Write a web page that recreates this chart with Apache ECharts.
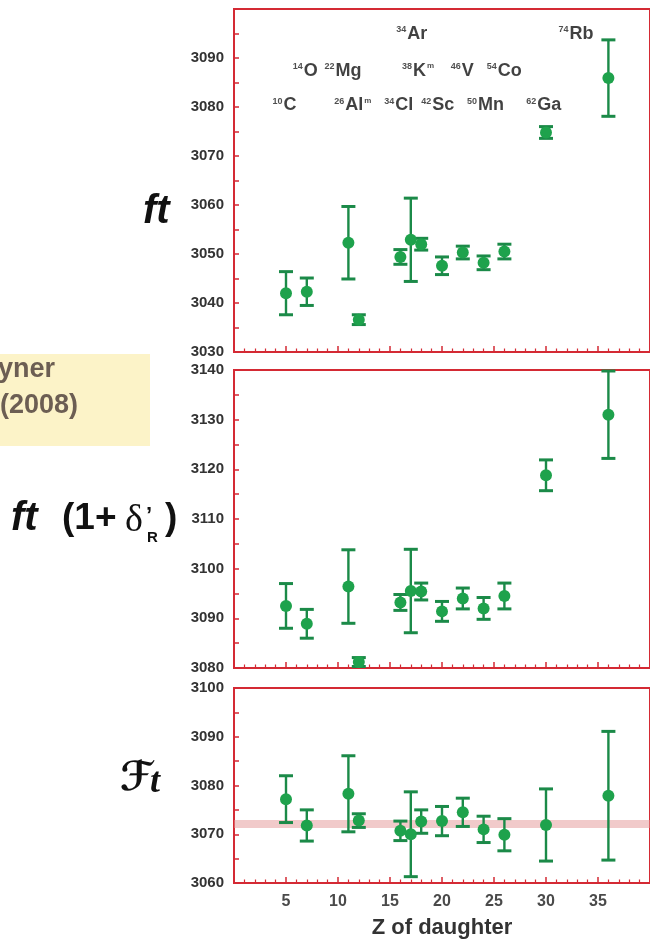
<!DOCTYPE html>
<html>
<head>
<meta charset="utf-8">
<script src="https://cdn.jsdelivr.net/npm/echarts@6/dist/echarts.min.js"></script>
<style>
  html, body { margin: 0; padding: 0; background: #ffffff; }
  #chart { width: 650px; height: 941px; }
</style>
</head>
<body>
<div id="chart"></div>
<script>
// Superallowed 0+ -> 0+ beta decays: Z of the daughter nucleus
const zDaughter = [5, 7, 11, 12, 16, 17, 18, 20, 22, 24, 26, 30, 36];

// Uncorrected ft values and uncertainties (s)
const ftValues = [3042.0, 3042.3, 3052.3, 3036.6, 3049.4, 3052.9, 3052.0, 3047.6, 3050.3, 3048.2, 3050.5, 3074.8, 3085.9];
const ftErrors = [4.4, 2.8, 7.4, 1.0, 1.5, 8.5, 1.2, 1.8, 1.3, 1.4, 1.5, 1.2, 7.8];

// ft (1 + delta'_R)
const ftRadValues = [3092.5, 3088.9, 3096.4, 3081.2, 3093.2, 3095.5, 3095.4, 3091.4, 3094.0, 3092.0, 3094.5, 3118.8, 3131.0];
const ftRadErrors = [4.5, 2.9, 7.4, 0.9, 1.6, 8.4, 1.7, 2.0, 2.1, 2.2, 2.6, 3.1, 8.8];

// Corrected Ft values
const FtValues = [3077.2, 3071.8, 3078.3, 3072.8, 3070.7, 3070.0, 3072.6, 3072.7, 3074.5, 3071.0, 3069.9, 3071.9, 3077.9];
const FtErrors = [4.8, 3.2, 7.8, 1.4, 2.0, 8.7, 2.4, 3.0, 2.9, 2.7, 3.3, 7.4, 13.2];

// Weighted average of Ft
const FtAverage = 3072.1;
const FtAverageError = 0.8;

// Parent nuclide labels and where they sit in the ft panel (Z, ft)
const isoMass   = ['10', '14', '22', '26', '34', '34', '38', '42', '46', '50', '54', '62', '74'];
const isoSymbol = ['C', 'O', 'Mg', 'Al', 'Cl', 'Ar', 'K', 'Sc', 'V', 'Mn', 'Co', 'Ga', 'Rb'];
const isoSuffix = ['', '', '', 'm', '', '', 'm', '', '', '', '', '', ''];
const isoLabelZ  = [3.7, 5.65, 8.7, 9.65, 14.45, 15.6, 16.15, 18.0, 20.85, 22.4, 24.3, 28.1, 31.2];
const isoLabelFt = [3080.3, 3087.3, 3087.3, 3080.3, 3080.3, 3094.9, 3087.3, 3080.3, 3087.3, 3080.3, 3087.3, 3080.3, 3094.9];

// Axis ranges per panel
const yRanges = [[3030, 3100], [3080, 3140], [3060, 3100]];
const zRange = [0, 40];

const RED = '#d42a34';
const MARK = '#1ea24c';
const BAR = '#1b8a48';
const FONT = '"Liberation Sans", Arial, sans-serif';

const chart = echarts.init(document.getElementById('chart'), null, { renderer: 'canvas' });

const grids = [
  { left: 234, right: -2, top: 9, height: 343 },
  { left: 234, right: -2, top: 370, height: 298 },
  { left: 234, right: -2, top: 688, height: 195 }
].map(g => Object.assign({
  show: true, borderColor: RED, borderWidth: 2, backgroundColor: 'transparent'
}, g));

function xAxisFor(i, withLabels) {
  return {
    type: 'value', gridIndex: i, min: zRange[0], max: zRange[1], interval: 5,
    axisLine: { show: true, onZero: false, lineStyle: { color: RED, width: 2 } },
    axisTick: { show: true, inside: true, length: 6, lineStyle: { color: RED, width: 1.5 } },
    minorTick: { show: true, splitNumber: 5, length: 3.5, lineStyle: { color: RED, width: 1.2 } },
    splitLine: { show: false },
    axisLabel: {
      show: withLabels, showMinLabel: false, showMaxLabel: false, margin: 11,
      fontFamily: FONT, fontSize: 16, fontWeight: 'bold', color: '#4a4a4a',
      formatter: v => String(v)
    },
    name: withLabels ? 'Z of daughter' : '',
    nameLocation: 'middle', nameGap: 34,
    nameTextStyle: { fontFamily: FONT, fontSize: 22, fontWeight: 'bold', color: '#333333' }
  };
}

function yAxisFor(i) {
  return {
    type: 'value', gridIndex: i, min: yRanges[i][0], max: yRanges[i][1], interval: 10,
    axisLine: { show: true, onZero: false, lineStyle: { color: RED, width: 2 } },
    axisTick: { show: true, inside: true, length: 5, lineStyle: { color: RED, width: 1.5 } },
    minorTick: { show: true, splitNumber: 2, length: 5, lineStyle: { color: RED, width: 1.5 } },
    splitLine: { show: false },
    axisLabel: {
      margin: 10, showMaxLabel: i !== 0,
      fontFamily: FONT, fontSize: 15, fontWeight: 'bold', color: '#333333',
      formatter: v => String(v)
    }
  };
}

function renderErrorBar(params, api) {
  const z = api.value(0);
  const lo = api.coord([z, api.value(1)]);
  const hi = api.coord([z, api.value(2)]);
  const half = 7;
  return {
    type: 'group',
    children: [
      { type: 'line', shape: { x1: lo[0], y1: lo[1], x2: hi[0], y2: hi[1] },
        style: { stroke: BAR, lineWidth: 2.4 } },
      { type: 'line', shape: { x1: lo[0] - half, y1: lo[1], x2: lo[0] + half, y2: lo[1] },
        style: { stroke: BAR, lineWidth: 3 } },
      { type: 'line', shape: { x1: hi[0] - half, y1: hi[1], x2: hi[0] + half, y2: hi[1] },
        style: { stroke: BAR, lineWidth: 3 } }
    ]
  };
}

function panelSeries(i, values, errors) {
  const bars = zDaughter.map((z, k) => [z, values[k] - errors[k], values[k] + errors[k]]);
  const points = zDaughter.map((z, k) => [z, values[k]]);
  return [
    {
      type: 'custom', xAxisIndex: i, yAxisIndex: i, z: 3, silent: true,
      renderItem: renderErrorBar, data: bars, clip: false
    },
    {
      type: 'scatter', xAxisIndex: i, yAxisIndex: i, z: 4, silent: true,
      symbol: 'circle', symbolSize: 12,
      itemStyle: { color: MARK, opacity: 1 },
      data: points
    }
  ];
}

const series = [
  ...panelSeries(0, ftValues, ftErrors),
  ...panelSeries(1, ftRadValues, ftRadErrors),
  ...panelSeries(2, FtValues, FtErrors)
];

// Average Ft band
series.push({
  type: 'line', xAxisIndex: 2, yAxisIndex: 2, data: [], silent: true, z: 1,
  markArea: {
    silent: true,
    itemStyle: { color: 'rgba(228, 150, 150, 0.5)' },
    data: [[{ yAxis: FtAverage - FtAverageError }, { yAxis: FtAverage + FtAverageError }]]
  }
});

// Parent nuclide names in the ft panel
series.push({
  type: 'scatter', xAxisIndex: 0, yAxisIndex: 0, symbolSize: 0, silent: true, z: 5,
  data: isoLabelZ.map((z, k) => [z, isoLabelFt[k]]),
  label: {
    show: true, position: [0, 0], align: 'left', verticalAlign: 'middle',
    formatter: p => {
      const k = p.dataIndex;
      return '{m|' + isoMass[k] + '}{e|' + isoSymbol[k] + '}' +
        (isoSuffix[k] ? '{s|' + isoSuffix[k] + '}' : '');
    },
    rich: {
      m: { fontFamily: FONT, fontSize: 9, fontWeight: 'bold', color: '#222222', verticalAlign: 'top', padding: [0, 1, 0, 0] },
      e: { fontFamily: FONT, fontSize: 18, fontWeight: 'bold', color: '#111111', verticalAlign: 'bottom' },
      s: { fontFamily: FONT, fontSize: 8, fontWeight: 'bold', color: '#222222', verticalAlign: 'top', padding: [0, 0, 0, 1] }
    }
  }
});

const graphic = [
  // Reference note box on the left
  { type: 'rect', left: -10, top: 354, shape: { width: 160, height: 92 },
    style: { fill: '#fcf3c8' }, z: 0, silent: true },
  { type: 'text', x: -2, y: 370, z: 1, silent: true,
    style: { text: 'yner', font: 'bold 27px ' + FONT, fill: '#6c5e53', verticalAlign: 'middle' } },
  { type: 'text', x: 0, y: 406, z: 1, silent: true,
    style: { text: '(2008)', font: 'bold 27px ' + FONT, fill: '#6c5e53', verticalAlign: 'middle' } },

  // Y-axis titles
  { type: 'text', x: 143, y: 212, silent: true,
    style: { text: 'ft', font: 'italic bold 40px ' + FONT, fill: '#111111', verticalAlign: 'middle' } },

  { type: 'text', x: 11, y: 519, silent: true,
    style: { text: 'ft', font: 'italic bold 40px ' + FONT, fill: '#111111', verticalAlign: 'middle' } },
  { type: 'text', x: 62, y: 519, silent: true,
    style: { text: '(1+', font: 'bold 37px ' + FONT, fill: '#111111', verticalAlign: 'middle' } },
  { type: 'text', x: 125, y: 521, silent: true,
    style: { text: 'δ', font: '38px "Liberation Serif", serif', fill: '#111111', verticalAlign: 'middle' } },
  { type: 'text', x: 146, y: 516, silent: true,
    style: { text: '’', font: 'bold 22px ' + FONT, fill: '#111111', verticalAlign: 'middle' } },
  { type: 'text', x: 147, y: 538, silent: true,
    style: { text: 'R', font: 'bold 15px ' + FONT, fill: '#111111', verticalAlign: 'middle' } },
  { type: 'text', x: 165, y: 519, silent: true,
    style: { text: ')', font: 'bold 37px ' + FONT, fill: '#111111', verticalAlign: 'middle' } },

  { type: 'text', x: 120, y: 780, silent: true,
    style: { text: 'ℱ', font: 'bold 40px "DejaVu Sans", "DejaVu Serif", sans-serif', fill: '#111111', verticalAlign: 'middle' } },
  { type: 'text', x: 150, y: 783, silent: true,
    style: { text: 't', font: 'italic bold 36px "Liberation Serif", serif', fill: '#111111', verticalAlign: 'middle' } }
];

chart.setOption({
  animation: false,
  backgroundColor: '#ffffff',
  grid: grids,
  xAxis: [xAxisFor(0, false), xAxisFor(1, false), xAxisFor(2, true)],
  yAxis: [yAxisFor(0), yAxisFor(1), yAxisFor(2)],
  series: series,
  graphic: graphic
});
</script>
</body>
</html>
